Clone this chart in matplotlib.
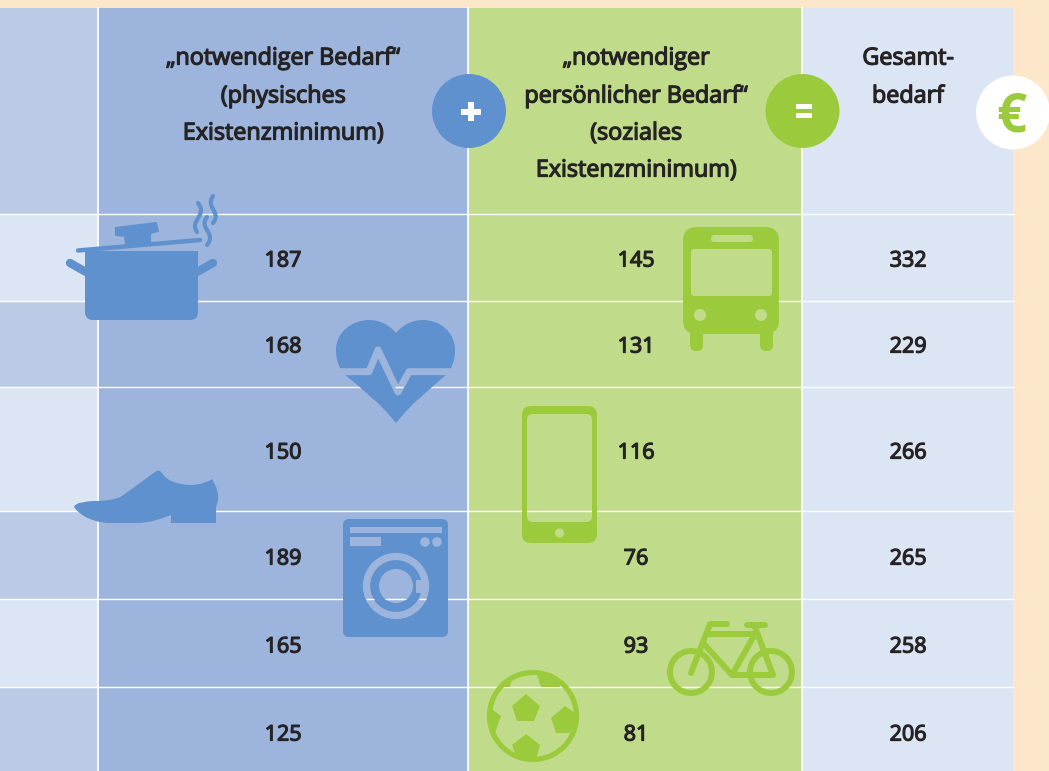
#coding:utf-8
from matplotlib import pyplot as plt
from matplotlib import patheffects as pe
from matplotlib.patches import Rectangle, Circle, Ellipse, Polygon, PathPatch, FancyBboxPatch
from matplotlib.path import Path

plt.rcParams['font.family'] = ['Open Sans', 'DejaVu Sans']

# Tabellenwerte
notwendig = [187, 168, 150, 189, 165, 125]
persoenlich = [145, 131, 116, 76, 93, 81]
gesamt = [332, 229, 266, 265, 258, 206]

head_notwendig = ['„notwendiger Bedarf“', '(physisches', 'Existenzminimum)']
head_persoenlich = ['„notwendiger', 'persönlicher Bedarf“', '(soziales', 'Existenzminimum)']
head_gesamt = ['Gesamt-', 'bedarf']

# Raster in Pixeln
col_edges = [0, 98, 468, 802, 1013]
row_edges = [8, 213.5, 300.5, 387, 511, 599, 687, 771]
head_y = [58.5, 96.5, 133.5, 170.5]
value_y = [261, 347, 453, 559, 647, 735]

BG = '#fde7ca'
LIGHT = '#dce5f3'
MID = '#bbcbe6'
BLUE_CELL = '#9db5dd'
GREEN_CELL = '#c0dc8a'
BLUE = '#5f91ce'
GREEN = '#9bcb3c'
INK = '#262324'

fig = plt.figure(figsize=(10.49, 7.71), dpi=100, facecolor=BG)
ax = fig.add_axes([0, 0, 1, 1])
ax.set_xlim(0, 1049)
ax.set_ylim(771, 0)
ax.axis('off')


def rect(x0, y0, x1, y1, color, z=1):
    ax.add_patch(Rectangle((x0, y0), x1 - x0, y1 - y0, fc=color, ec='none', zorder=z))


def rrect(x0, y0, x1, y1, r, color, z=3):
    p = FancyBboxPatch((x0 + r, y0 + r), x1 - x0 - 2 * r, y1 - y0 - 2 * r,
                       boxstyle='round,pad=%f,rounding_size=%f' % (r, r),
                       fc=color, ec='none', zorder=z)
    ax.add_patch(p)
    return p


def stroke(pts, color, lw, z=3):
    ax.plot([p[0] for p in pts], [p[1] for p in pts], color=color, lw=lw,
            solid_capstyle='round', solid_joinstyle='round', zorder=z)


def curve(pts, color, lw, z=3):
    codes = [Path.MOVETO] + [Path.CURVE4] * (len(pts) - 1)
    ax.add_patch(PathPatch(Path(pts, codes), fc='none', ec=color, lw=lw,
                           capstyle='round', zorder=z))


def show_lines(patch):
    # Loch im Icon: die weisse Rasterlinie scheint durch
    for y in row_edges[1:-1]:
        line, = ax.plot([0, 1013], [y, y], color='white', lw=1.0, zorder=6)
        line.set_clip_path(patch)


def show_segment(x0, x1, y):
    ax.plot([x0, x1], [y, y], color='white', lw=1.0, solid_capstyle='butt', zorder=6)


# Spalten und Zeilen
rect(col_edges[0], row_edges[0], col_edges[1], row_edges[1], MID)
for i in range(6):
    rect(col_edges[0], row_edges[i + 1], col_edges[1], row_edges[i + 2], LIGHT if i % 2 == 0 else MID)
rect(col_edges[1], row_edges[0], col_edges[2], 771, BLUE_CELL)
rect(col_edges[2], row_edges[0], col_edges[3], 771, GREEN_CELL)
rect(col_edges[3], row_edges[0], col_edges[4], 771, LIGHT)

for y in row_edges[1:-1]:
    ax.plot([0, 1013], [y, y], color='white', lw=1.0, zorder=2)
for x in col_edges[1:-1]:
    ax.plot([x, x], [8, 771], color='white', lw=1.3, zorder=2)

# Topf
rrect(85, 251, 198, 320, 8, BLUE)
rect(85, 251, 198, 262, BLUE, 3)
stroke([(86, 272), (70, 263)], BLUE, 6)
stroke([(197, 272), (213, 263)], BLUE, 6)
stroke([(78, 250.5), (200, 240)], BLUE, 3.2)
ax.add_patch(Polygon([(116, 228), (156, 223), (158, 231), (150, 233), (150, 242), (126, 245),
                      (125, 236), (116, 235)], fc=BLUE, ec=BLUE, lw=1.5, joinstyle='round', zorder=3))
curve([(198, 203), (208, 216), (189, 220), (197, 232)], BLUE, 3)
curve([(213, 196), (205, 208), (222, 212), (213, 223)], BLUE, 3)
curve([(207, 217), (198, 229), (217, 232), (207, 245)], BLUE, 3)

# Herz
heart = Path([(396, 423), (380, 403), (362, 389), (345, 375),
              (342, 373), (340, 370), (340, 368),
              (337, 362), (336, 356), (336, 350),
              (336, 332), (352, 320), (369, 320),
              (381, 320), (390, 326), (396, 333),
              (402, 326), (411, 320), (423, 320),
              (440, 320), (455, 332), (455, 350),
              (455, 356), (454, 362), (451, 368),
              (451, 370), (449, 373), (446, 375),
              (430, 389), (412, 403), (396, 423)],
             [Path.MOVETO] + [Path.CURVE4] * 30)
ax.add_patch(PathPatch(heart, fc=BLUE, ec='none', zorder=3))
ecg_x = [330, 369, 378, 398, 409, 462]
ecg_y = [371.7, 371.7, 350, 392, 371.7, 371.7]
ax.plot(ecg_x, ecg_y, color=BLUE_CELL, lw=5, solid_joinstyle='round', zorder=4)
show_segment(394.5, 402.5, 387)

# Schuh
shoe = Path([(74, 507), (76, 502), (85, 502), (92, 501), (105, 501), (115, 500), (122, 496),
             (155, 472), (158, 470), (160, 470), (162, 473), (166, 480), (175, 484), (190, 485),
             (198, 485), (206, 483), (212, 479), (216, 486), (219, 492), (218, 500),
             (216, 508), (216, 523), (171, 523), (171, 515),
             (160, 519), (152, 523), (135, 523), (110, 523), (95, 523), (80, 516), (74, 507)],
            [Path.MOVETO] + [Path.CURVE4] * 6 + [Path.LINETO] + [Path.CURVE4] * 12 +
            [Path.LINETO] * 4 + [Path.CURVE4] * 3 + [Path.LINETO] + [Path.CURVE4] * 3)
ax.add_patch(PathPatch(shoe, fc=BLUE, ec='none', zorder=3))

# Waschmaschine
rrect(343, 519, 448, 637, 6, BLUE)
rect(349.5, 527, 442, 532.5, BLUE_CELL, 4)
rect(349.5, 537, 381, 546, BLUE_CELL, 4)
ax.add_patch(Circle((425, 542), 4.8, fc=BLUE_CELL, ec='none', zorder=4))
ax.add_patch(Circle((437, 542), 4.8, fc=BLUE_CELL, ec='none', zorder=4))
ax.add_patch(Circle((396, 586), 29.5, fc='none', ec=BLUE_CELL, lw=5.2, zorder=4))
drum = Circle((396, 586), 17, fc=BLUE_CELL, ec='none', zorder=4)
ax.add_patch(drum)
show_lines(drum)
rect(416, 580, 423, 593, BLUE_CELL, 4)
show_segment(366, 373.5, 599)
show_segment(418.5, 426, 599)

# Bus
rrect(683, 227, 779, 334, 14, GREEN)
rrect(690, 320, 703, 351, 6, GREEN)
rrect(760, 320, 773, 351, 6, GREEN)
rrect(691, 249, 772, 296, 3, GREEN_CELL, 4)
rrect(711, 235, 753, 242, 3.4, GREEN_CELL, 4)
ax.add_patch(Circle((700, 315), 6, fc=GREEN_CELL, ec='none', zorder=4))
ax.add_patch(Circle((761, 315), 6, fc=GREEN_CELL, ec='none', zorder=4))

# Handy
rrect(522, 406, 597, 543, 9, GREEN)
screen = rrect(527, 414, 592, 522, 6, GREEN_CELL, 4)
show_lines(screen)
ax.add_patch(Circle((559.5, 533), 4.6, fc=GREEN_CELL, ec='none', zorder=4))

# Fahrrad
for cx in (691, 771):
    ax.add_patch(Circle((cx, 672), 21, fc='none', ec=GREEN, lw=4.3, zorder=3))
stroke([(691, 673), (710, 624), (727, 624)], GREEN, 4.3)
stroke([(747, 625), (765, 625)], GREEN, 4.3)
stroke([(755, 627), (773, 675), (732, 675), (703, 643)], GREEN, 4.3)
stroke([(707, 634), (755, 634)], GREEN, 4.3)
stroke([(732, 675), (755, 634)], GREEN, 4.3)

# Ball
ax.add_patch(Circle((533, 716), 43.5, fc='none', ec=GREEN, lw=3.8, zorder=3))
pent_xy = [[(526, 694), (540, 706), (534, 721), (517, 721), (512, 706)],
           [(551, 718), (565, 706), (578, 715), (570, 733), (556, 733)],
           [(512, 745), (526, 734), (540, 745), (536, 760), (517, 758)],
           [(537, 675), (558, 678), (560, 687), (541, 687)],
           [(512, 678), (510, 687), (500, 687)],
           [(490, 708), (501, 716), (495, 733), (488, 723)]]
for pts in pent_xy:
    ax.add_patch(Polygon(pts, fc=GREEN, ec='none', zorder=3))

# Rechenzeichen
ax.add_patch(Circle((469, 111), 37, fc=BLUE, ec='none', zorder=7))
ax.add_patch(Circle((802.5, 111), 37, fc=GREEN, ec='none', zorder=7))
ax.add_patch(Circle((1013, 112.5), 37, fc='white', ec='none', zorder=7))
rect(461, 109, 481, 114.5, 'white', 8)
rect(468, 102, 474, 121, 'white', 8)
rect(796, 104, 812, 109, 'white', 8)
rect(796, 112.5, 812, 117.5, 'white', 8)
ax.text(1011, 117, '€', fontsize=38, fontweight='bold', color=GREEN, ha='center', va='center', zorder=8)

# Texte
FS_HEAD = 16.8
FS_VALUE = 15.5
weight = [pe.withStroke(linewidth=0.9, foreground=INK)]
for col, lines in [(283, head_notwendig), (636, head_persoenlich), (908, head_gesamt)]:
    for y, s in zip(head_y, lines):
        ax.text(col, y, s, fontsize=FS_HEAD, color=INK, ha='center', va='center', zorder=9, path_effects=weight)

for i in range(6):
    ax.text(283, value_y[i], str(notwendig[i]), fontsize=FS_VALUE, color=INK, ha='center', va='center', zorder=9, path_effects=weight)
    ax.text(636, value_y[i], str(persoenlich[i]), fontsize=FS_VALUE, color=INK, ha='center', va='center', zorder=9, path_effects=weight)
    ax.text(908, value_y[i], str(gesamt[i]), fontsize=FS_VALUE, color=INK, ha='center', va='center', zorder=9, path_effects=weight)

fig.savefig('out.png', dpi=100, facecolor=BG)
